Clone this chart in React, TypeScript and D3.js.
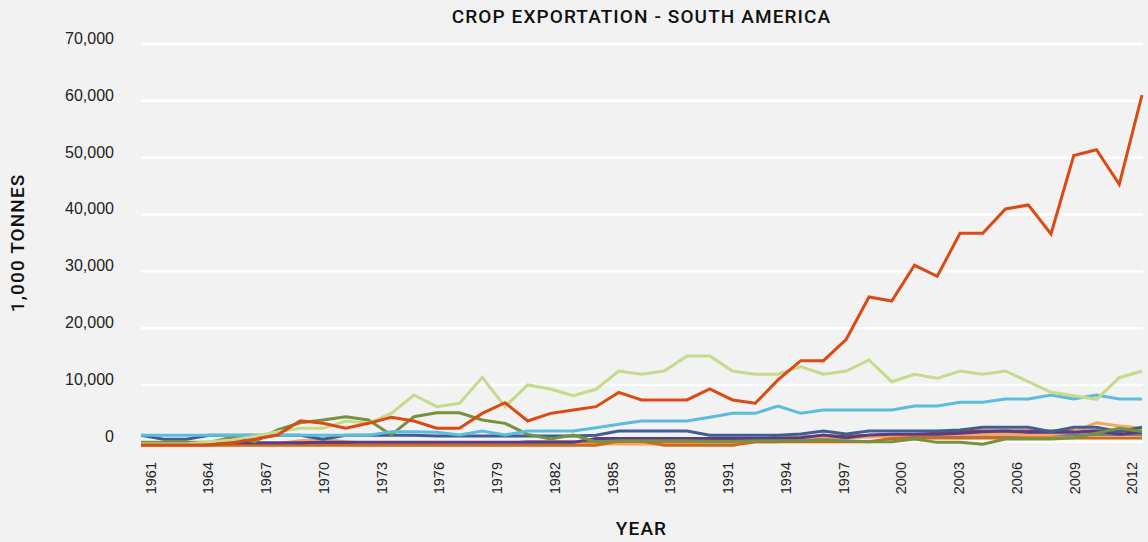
import React from "react";
import * as d3 from "d3";

// ---------- data ----------
const YEARS = [
  1961, 1962, 1963, 1964, 1965, 1966, 1967, 1968, 1969, 1970, 1971, 1972, 1973,
  1974, 1975, 1976, 1977, 1978, 1979, 1980, 1981, 1982, 1983, 1984, 1985, 1986,
  1987, 1988, 1989, 1990, 1991, 1992, 1993, 1994, 1995, 1996, 1997, 1998, 1999,
  2000, 2001, 2002, 2003, 2004, 2005, 2006, 2007, 2008, 2009, 2010, 2011, 2012,
];
const YEAR_TICKS = [
  1961, 1964, 1967, 1970, 1973, 1976, 1979, 1982, 1985, 1988, 1991, 1994, 1997,
  2000, 2003, 2006, 2009, 2012,
];
const Y_TICKS = [0, 10000, 20000, 30000, 40000, 50000, 60000, 70000];

// 45 plotted points per series (evenly spaced across the plot)
const SOY = [
  -560, -560, -560, -560, -150, 440, 1200, 3700, 3250, 2400, 3250, 4300, 3660,
  2400, 2400, 5000, 6880, 3660, 5000, 5600, 6180, 8700, 7360, 7360, 7360, 9300,
  7360, 6780, 10880, 14270, 14270, 18040, 25480, 24780, 31060, 29120, 36690,
  36690, 40970, 41680, 36570, 50360, 51400, 45320, 61000,
];
const MAIZE = [
  -400, -400, -400, 0, 300, 1000, 1780, 2370, 2370, 3660, 3250, 5000, 8240, 6180,
  6780, 11350, 6180, 10000, 9290, 8110, 9240, 12460, 11880, 12460, 15100, 15100,
  12460, 11880, 11880, 13220, 11880, 12460, 14400, 10580, 11880, 11170, 12460,
  11880, 12460, 10580, 8710, 8110, 7480, 11280, 12460,
];
const SUGAR = [
  1140, 1140, 1140, 1140, 1140, 1140, 1140, 1140, 1140, 1140, 1140, 1780, 1780,
  1700, 1200, 1900, 1200, 1900, 1900, 1900, 2480, 3080, 3660, 3660, 3660, 4310,
  5010, 5010, 6300, 5010, 5600, 5600, 5600, 5600, 6300, 6300, 6950, 6950, 7530,
  7530, 8240, 7530, 8240, 7530, 7530,
];
const WHEAT = [
  -100, -100, -100, -100, 790, 0, 2080, 3360, 3840, 4420, 3840, 1200, 4420, 5120,
  5120, 3840, 3250, 1300, 490, 1200, 0, 200, 200, 200, 200, 100, 100, 200, 200,
  200, 300, 200, 0, 0, 490, -100, -100, -440, 490, 490, 490, 700, 1500, 2400,
  1800,
];
const COFFEE = [
  1140, 440, 440, 1140, 1140, 1140, 1140, 1140, 440, 1140, 1140, 1140, 1140, 1020,
  1020, 1020, 1020, 1020, 1020, 1020, 1140, 1900, 1900, 1900, 1900, 1140, 1140,
  1140, 1140, 1370, 1900, 1370, 1900, 1900, 1900, 1900, 2080, 2550, 2550, 2550,
  1780, 2550, 2550, 1780, 2550,
];
const BANANAS = [
  -150, -150, -150, -150, -150, -150, -150, -150, -100, -100, -100, -100, -100,
  -100, -100, -100, -100, -100, -100, -100, 600, 600, 600, 600, 600, 600, 600,
  600, 600, 720, 1200, 720, 1200, 1320, 1320, 1320, 1500, 1780, 1900, 1670, 1670,
  1670, 1900, 1320, 1670,
];
const BARLEY = [
  -500, -500, -500, -500, -500, -400, -300, 200, 440, 0, -300, -400, -400, -400,
  -400, -400, -400, -400, -400, -400, -400, -400, -400, -400, -400, -400, -400,
  0, 700, 700, 900, 700, 900, 1000, 1300, 1300, 1300, 1300, 1300, 1300, 1300,
  1780, 3360, 2780, 2370,
];
const RICE = [
  -600, -600, -600, -600, -600, -600, -600, -600, -600, -600, -600, -600, -600,
  -600, -600, -600, -600, -600, -600, -600, -600, 140, 140, -600, -600, -600,
  -600, 0, 0, 0, 0, 0, 0, 600, 650, 650, 650, 650, 650, 650, 650, 650, 650, 650,
  650,
];
const FRUIT = [
  -300, -300, -300, -300, -300, -300, -300, -300, -300, -300, -300, -300, -300,
  -300, -300, -300, -300, -300, -300, -300, -300, -300, -300, -300, -300, -300,
  -300, 400, 790, 790, 1000, 1000, 1100, 1200, 1300, 1500, 1900, 1900, 1900,
  1900, 1900, 1900, 1900, 1900, 1900,
];
const OTHER = [
  -300, -300, -300, -300, -300, -300, -300, -300, -300, -300, -300, -300, -300,
  -300, -300, -300, -300, 0, 0, 0, 0, 0, 0, 0, 0, 0, 0, 0, 0, 600, 700, 900,
  900, 1000, 1000, 1000, 1100, 1100, 1100, 1200, 1200, 1200, 1300, 1300, 1300,
];

const SERIES = [
  { name: "Other", values: OTHER, color: "#7f7f73" },
  { name: "Fruit", values: FRUIT, color: "#9c3f2c" },
  { name: "Barley", values: BARLEY, color: "#f5a660" },
  { name: "Rice", values: RICE, color: "#cc6a1d" },
  { name: "Bananas", values: BANANAS, color: "#5c3a86" },
  { name: "Coffee", values: COFFEE, color: "#3f5f91" },
  { name: "Wheat", values: WHEAT, color: "#76913f" },
  { name: "Sugar", values: SUGAR, color: "#5bbcdd" },
  { name: "Maize", values: MAIZE, color: "#c3db8b" },
  { name: "Soybeans", values: SOY, color: "#db4a12" },
];

// ---------- layout ----------
const W = 1148;
const H = 542;
const PLOT_LEFT = 141;
const PLOT_RIGHT = 1142;
const PLOT_TOP = 44;
const PLOT_BOTTOM = 441.8;
const FONT = "'Liberation Sans', Arial, Helvetica, sans-serif";
const TITLE_FONT = "Roboto, 'Liberation Sans', Arial, sans-serif";

export default function App() {
  const y = d3.scaleLinear().domain([0, 70000]).range([PLOT_BOTTOM, PLOT_TOP]);
  const xBand = d3
    .scaleBand<number>()
    .domain(YEARS)
    .range([PLOT_LEFT, PLOT_RIGHT]);
  const xPoint = d3
    .scaleLinear()
    .domain([0, SOY.length - 1])
    .range([PLOT_LEFT, PLOT_RIGHT]);
  const line = d3
    .line<number>()
    .x((_, i) => xPoint(i))
    .y((v) => y(v));

  return (
    <svg
      width={W}
      height={H}
      style={{ position: "absolute", left: 0, top: 0, display: "block" }}
      fontFamily={FONT}
    >
      <rect x={0} y={0} width={W} height={H} fill="#f2f2f2" />
      <text
        x={(PLOT_LEFT + PLOT_RIGHT) / 2}
        y={23}
        textAnchor="middle"
        fontFamily={TITLE_FONT}
        fontSize={19}
        fontWeight={500}
        letterSpacing={1.1}
        fill="#111"
      >
        CROP EXPORTATION - SOUTH AMERICA
      </text>
      {Y_TICKS.map((t) => (
        <g key={t}>
          <line
            x1={PLOT_LEFT}
            x2={PLOT_RIGHT + 1}
            y1={y(t)}
            y2={y(t)}
            stroke="#ffffff"
            strokeWidth={2.5}
          />
          <text
            x={114}
            y={y(t)}
            textAnchor="end"
            fontSize={16}
            fill="#222"
          >
            {d3.format(",")(t)}
          </text>
        </g>
      ))}
      {SERIES.map((s) => (
        <path
          key={s.name}
          d={line(s.values) || ""}
          fill="none"
          stroke={s.color}
          strokeWidth={3}
          strokeLinejoin="miter"
        />
      ))}
      {YEAR_TICKS.map((yr) => {
        const cx = (xBand(yr) as number) + xBand.bandwidth() / 2;
        return (
          <text
            key={yr}
            transform={`translate(${cx},462) rotate(-90)`}
            textAnchor="end"
            dy="0.35em"
            fontSize={14.5}
            fill="#222"
          >
            {yr}
          </text>
        );
      })}
      <text
        x={(PLOT_LEFT + PLOT_RIGHT) / 2}
        y={535}
        textAnchor="middle"
        fontFamily={TITLE_FONT}
        fontSize={19}
        fontWeight={500}
        letterSpacing={1.1}
        fill="#111"
      >
        YEAR
      </text>
      <text
        transform={`translate(24,${(PLOT_TOP + PLOT_BOTTOM) / 2}) rotate(-90)`}
        textAnchor="middle"
        fontFamily={TITLE_FONT}
        fontSize={19}
        fontWeight={500}
        letterSpacing={1.1}
        fill="#111"
      >
        1,000 TONNES
      </text>
    </svg>
  );
}
